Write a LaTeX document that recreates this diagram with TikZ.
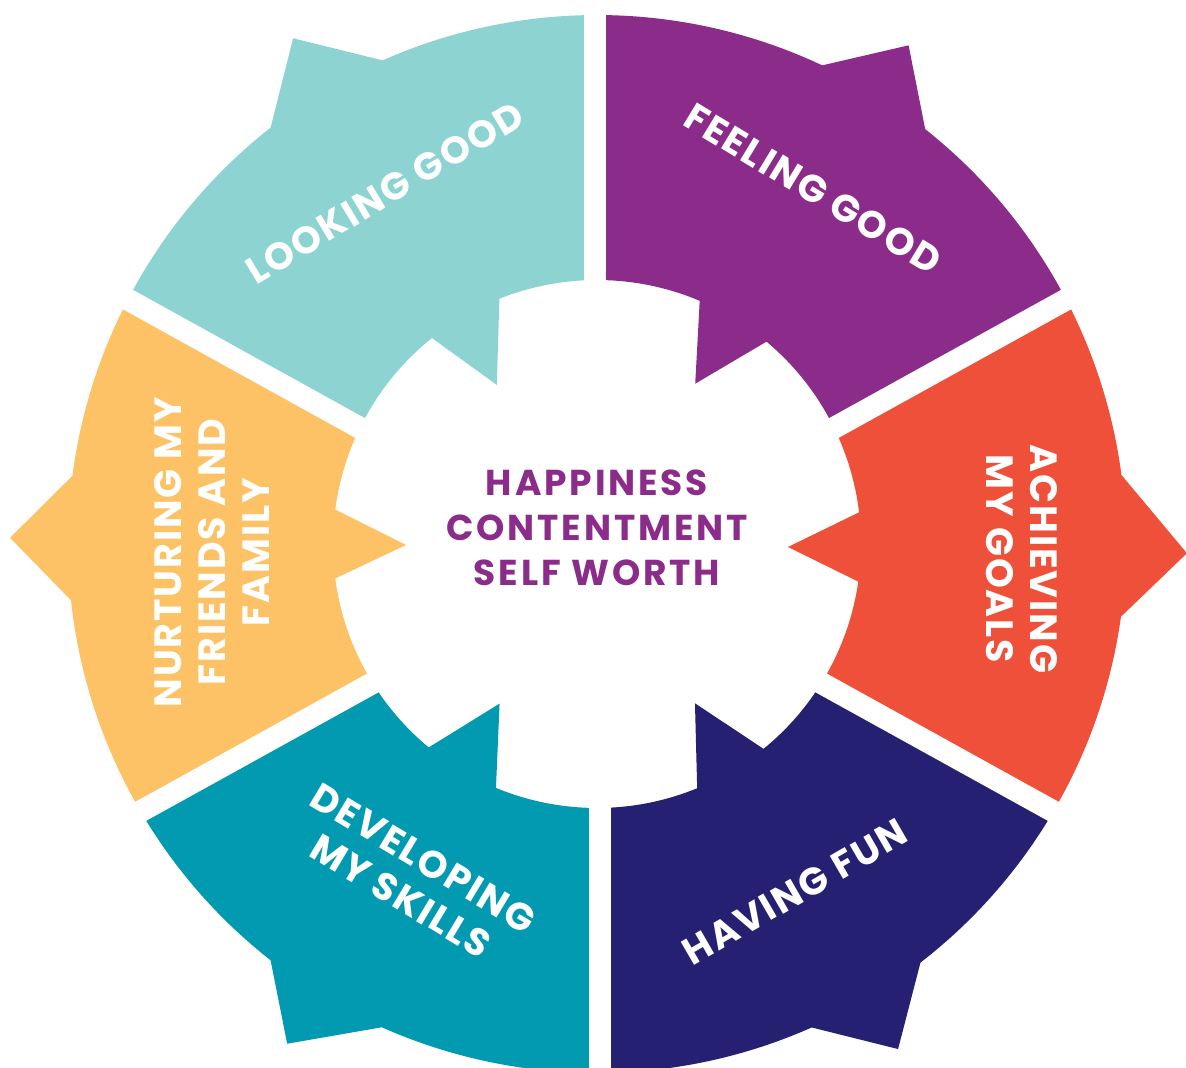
\documentclass[tikz,border=0pt]{standalone}
\usepackage{fontspec}
\setmainfont{Poppins}
\definecolor{cLG}{RGB}{140,211,210}
\definecolor{cFG}{RGB}{139,43,138}
\definecolor{cOR}{RGB}{239,80,57}
\definecolor{cHF}{RGB}{38,32,114}
\definecolor{cDS}{RGB}{1,154,176}
\definecolor{cYE}{RGB}{253,194,102}
\definecolor{cTX}{RGB}{139,44,139}
\tikzset{
  lab/.style={text=white, align=center, inner sep=0pt,
    font=\bfseries\fontsize{38}{44}\selectfont\addfontfeatures{LetterSpace=5}},
  ctext/.style={text=cTX, align=center, inner sep=0pt,
    font=\bfseries\fontsize{36}{45}\selectfont\addfontfeatures{LetterSpace=8}},
  gapband/.style={fill=white}
}
\begin{document}
\begin{tikzpicture}[x=1pt,y=1pt]
\useasboundingbox (-597,-524) rectangle (589,544);
\clip (-597,-524) rectangle (589,544);
\fill[white] (-597,-524) rectangle (589,544);
% segments
\foreach \a/\b/\col in {28.95/90/cFG, 90/151.05/cLG, 151.05/208.95/cYE, 208.95/270/cDS, 270/331.05/cHF, -28.95/28.95/cOR}{
  \begin{scope}
    \clip (0,-15) -- ([shift={(0,-15)}]\a:1500) -- ([shift={(0,-15)}]\b:1500) -- cycle;
    \fill[\col, even odd rule]
      (-7.9:529) -- (-0.9:590) -- (7.5:529)
      arc[start angle=7.5, end angle=51.65, radius=529]
      -- (58:588) -- (64.8:529)
      arc[start angle=64.8, end angle=113.9, radius=529]
      -- (121:590) -- (128.1:529)
      arc[start angle=128.1, end angle=172.6, radius=529]
      -- (179.4:587) -- (186.1:529)
      arc[start angle=186.1, end angle=231.9, radius=529]
      -- (238.2:588) -- (246:529)
      arc[start angle=246, end angle=293.95, radius=529]
      -- (300.8:588) -- (307.7:529)
      arc[start angle=307.7, end angle=352.1, radius=529]
      -- cycle
      (-8.2:264) -- (-0.9:191) -- (6.9:264)
      arc[start angle=6.9, end angle=50.05, radius=264]
      -- (58.5:188) -- (67.1:264)
      arc[start angle=67.1, end angle=111.7, radius=264]
      -- (122.2:188) -- (128.7:264)
      arc[start angle=128.7, end angle=172.5, radius=264]
      -- (180.3:191) -- (187.5:264)
      arc[start angle=187.5, end angle=230.4, radius=264]
      -- (238.6:187) -- (247.5:264)
      arc[start angle=247.5, end angle=292.3, radius=264]
      -- (301.6:187) -- (309.1:264)
      arc[start angle=309.1, end angle=351.8, radius=264]
      -- cycle;
  \end{scope}
}
% white gaps
\fill[gapband] (-700,384.6) -- (700,-389.6) -- (700,-414.6) -- (-700,359.6) -- cycle;
\fill[gapband] (-700,-389.6) -- (700,384.6) -- (700,359.6) -- (-700,-414.6) -- cycle;
\fill[gapband] (-13,-15) rectangle (9,700);
\fill[gapband] (-8,-700) rectangle (14,-15);
% texts
\node[ctext] (core) at (0,16) {HAPPINESS\\CONTENTMENT\\SELF WORTH};
\node[lab, rotate=31] (looking) at (-212,351) {LOOKING GOOD};
\node[lab, rotate=-31.3] (feeling) at (216,355) {FEELING GOOD};
\node[lab, rotate=-90] (achieving) at (425,-15) {ACHIEVING\\MY GOALS};
\node[lab, rotate=30] (fun) at (198,-348) {HAVING FUN};
\node[lab, rotate=-31] (skills) at (-185,-333) {DEVELOPING\\MY SKILLS};
\node[lab, rotate=90] (nurture) at (-385,-8) {NURTURING MY\\FRIENDS AND\\FAMILY};
\end{tikzpicture}
\end{document}
